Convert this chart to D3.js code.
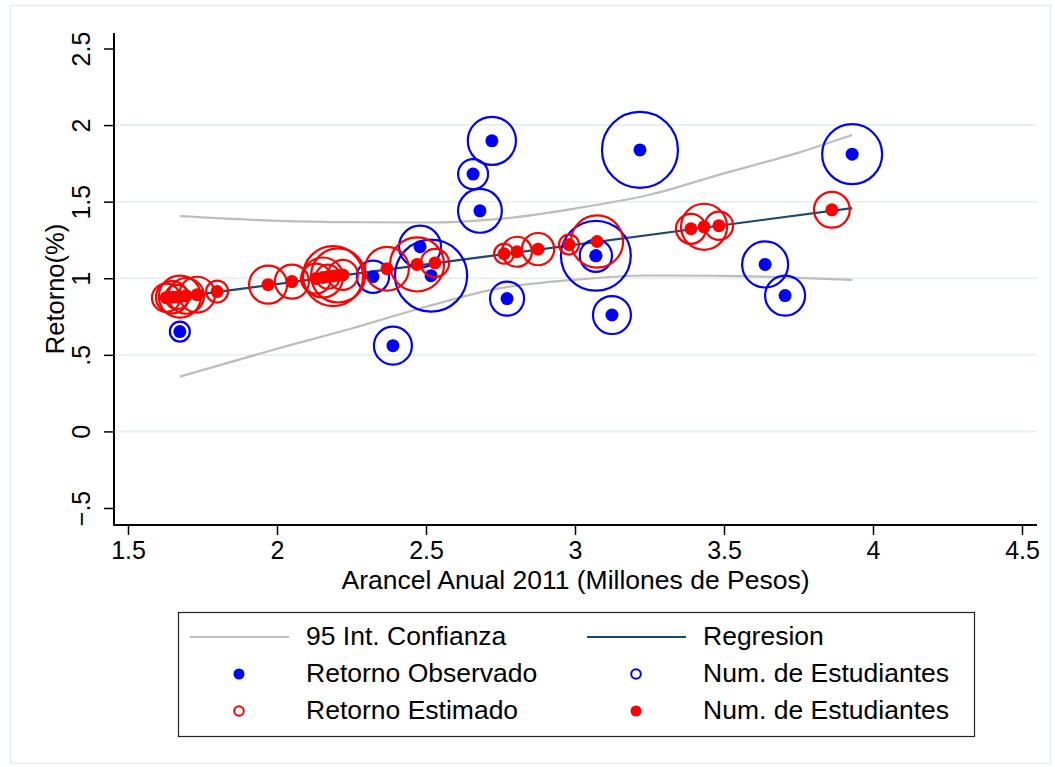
<!DOCTYPE html>
<html>
<head>
<meta charset="utf-8">
<script src="https://cdnjs.cloudflare.com/ajax/libs/d3/7.8.5/d3.min.js"></script>
<style>
  body { margin: 0; background: #fff; }
  svg text { font-family: "Liberation Sans", Arial, Helvetica, sans-serif; fill: #000; }
</style>
</head>
<body>
<div id="chart"></div>
<script>
// observed returns (blue), sized by number of students
var obsX = [1.674, 2.389, 2.322, 2.480, 2.517, 2.658, 2.681, 2.721, 2.772, 3.218, 3.070, 3.070, 3.124, 3.638, 3.705, 3.930];
var obsY = [0.652, 0.560, 1.010, 1.206, 1.017, 1.680, 1.440, 1.897, 0.867, 1.838, 1.147, 1.147, 0.760, 1.090, 0.887, 1.810];
var obsN = [100, 360, 260, 440, 1300, 225, 480, 580, 290, 1444, 260, 1220, 360, 530, 400, 900];

// estimated returns (red), sized by number of students
var estX = [1.628, 1.648, 1.665, 1.674, 1.695, 1.732, 1.799, 1.970, 2.050, 2.131, 2.154, 2.171, 2.188, 2.205, 2.221,
            2.369, 2.470, 2.530, 2.762, 2.805, 2.876, 2.980, 3.074, 3.389, 3.433, 3.483, 3.862];
var estY = [0.873, 0.876, 0.878, 0.880, 0.885, 0.893, 0.913, 0.958, 0.978, 0.998, 1.005, 1.010, 1.014, 1.018, 1.022,
            1.062, 1.090, 1.100, 1.160, 1.173, 1.190, 1.220, 1.240, 1.323, 1.336, 1.343, 1.447];
var estN = [200, 260, 145, 440, 320, 320, 120, 360, 290, 225, 400, 145, 900, 730, 225,
            480, 730, 200, 100, 225, 260, 100, 680, 225, 530, 200, 320];

// linear fit and 95% band
var regX = [1.674, 3.930];
var regY = [0.878, 1.458];
var ciX = [1.674, 2.0, 2.25, 2.5, 2.75, 3.0, 3.25, 3.5, 3.75, 3.930];
var ciUpper = [1.405, 1.375, 1.366, 1.364, 1.388, 1.455, 1.545, 1.685, 1.820, 1.935];
var ciLower = [0.358, 0.540, 0.672, 0.814, 0.935, 0.990, 1.018, 1.016, 1.003, 0.990];

var xTicks = [1.5, 2, 2.5, 3, 3.5, 4, 4.5];
var xTickLabels = ["1.5", "2", "2.5", "3", "3.5", "4", "4.5"];
var yTicks = [-0.5, 0, 0.5, 1, 1.5, 2, 2.5];
var yTickLabels = ["\u2212.5", "0", ".5", "1", "1.5", "2", "2.5"];
var gridValues = [0, 0.5, 1, 1.5, 2];

var legendItems = [
    {label: "95 Int. Confianza", type: "line", color: "#bdbdbd"},
    {label: "Regresion", type: "line", color: "#1a476f"},
    {label: "Retorno Observado", type: "dot", color: "#0000ff"},
    {label: "Num. de Estudiantes", type: "ring", color: "#0000ff"},
    {label: "Retorno Estimado", type: "ring", color: "#ff0000"},
    {label: "Num. de Estudiantes", type: "dot", color: "#ff0000"}
];

(function(){

    var width = 1055;
    var height = 767;

    var plot = {left: 114, right: 1037, top: 33, bottom: 525};

    var svg = d3.select("#chart")
        .append("svg")
            .attr("width", width)
            .attr("height", height);

    // outer frame
    svg.append("rect")
        .attr("x", 10.5)
        .attr("y", 5.5)
        .attr("width", 1040)
        .attr("height", 758)
        .attr("fill", "#fff")
        .attr("stroke", "#e6edf0")
        .attr("stroke-width", 1.5);

    var x = d3.scaleLinear().domain([1.5, 4.5]).range([128, 1022]);
    var y = d3.scaleLinear().domain([-0.5, 2.5]).range([508, 48.5]);
    var rScale = d3.scaleSqrt().domain([0, 1444]).range([0, 38]);

    // grid
    svg.append("g")
        .selectAll("line")
        .data(gridValues)
        .enter()
        .append("line")
            .attr("x1", plot.left)
            .attr("x2", plot.right)
            .attr("y1", function(d) { return y(d); })
            .attr("y2", function(d) { return y(d); })
            .attr("stroke", "#e8eff1")
            .attr("stroke-width", 2);

    // axes
    var xAxis = d3.axisBottom(x)
        .tickValues(xTicks)
        .tickFormat(function(d, i) { return xTickLabels[i]; })
        .tickSize(10)
        .tickPadding(7);

    var gx = svg.append("g")
        .attr("transform", "translate(0," + plot.bottom + ")")
        .call(xAxis);
    gx.select(".domain").remove();
    gx.selectAll("line").attr("stroke", "#000").attr("stroke-width", 1.5);
    gx.selectAll("text")
        .attr("font-size", "25px")
        .attr("dy", "0.71em")
        .attr("y", 16);

    var yAxis = d3.axisLeft(y)
        .tickValues(yTicks)
        .tickFormat(function(d, i) { return yTickLabels[i]; })
        .tickSize(10);

    var gy = svg.append("g")
        .attr("transform", "translate(" + plot.left + ",0)")
        .call(yAxis);
    gy.select(".domain").remove();
    gy.selectAll("line").attr("stroke", "#000").attr("stroke-width", 1.5);
    gy.selectAll("text")
        .attr("font-size", "25px")
        .attr("x", 0)
        .attr("y", -24)
        .attr("dy", 0)
        .attr("transform", "rotate(-90)")
        .style("text-anchor", "middle");

    svg.append("path")
        .attr("d", "M" + plot.left + "," + plot.top + "V" + plot.bottom + "H" + plot.right)
        .attr("fill", "none")
        .attr("stroke", "#000")
        .attr("stroke-width", 2);

    svg.append("text")
        .attr("x", (plot.left + plot.right) / 2)
        .attr("y", 589)
        .attr("font-size", "26.5px")
        .style("text-anchor", "middle")
        .text("Arancel Anual 2011 (Millones de Pesos)");

    svg.append("text")
        .attr("transform", "translate(64,289) rotate(-90)")
        .attr("font-size", "25.5px")
        .style("text-anchor", "middle")
        .text("Retorno(%)");

    // fit lines
    var line = d3.line()
        .x(function(d) { return x(d[0]); })
        .y(function(d) { return y(d[1]); })
        .curve(d3.curveMonotoneX);

    [ciUpper, ciLower].forEach(function(band){
        svg.append("path")
            .datum(ciX.map(function(v, i) { return [v, band[i]]; }))
            .attr("d", line)
            .attr("fill", "none")
            .attr("stroke", "#bdbdbd")
            .attr("stroke-width", 2.2);
    });

    svg.append("path")
        .datum(regX.map(function(v, i) { return [v, regY[i]]; }))
        .attr("d", line)
        .attr("fill", "none")
        .attr("stroke", "#1a476f")
        .attr("stroke-width", 2.2);

    function drawSeries(xs, ys, ns, colour) {
        var data = xs.map(function(v, i) { return {x: v, y: ys[i], n: ns[i]}; });
        var g = svg.append("g");
        g.selectAll("circle.ring")
            .data(data)
            .enter()
            .append("circle")
                .attr("class", "ring")
                .attr("cx", function(d) { return x(d.x); })
                .attr("cy", function(d) { return y(d.y); })
                .attr("r", function(d) { return rScale(d.n); })
                .attr("fill", "none")
                .attr("stroke", colour)
                .attr("stroke-width", 2.2);
        g.selectAll("circle.dot")
            .data(data)
            .enter()
            .append("circle")
                .attr("class", "dot")
                .attr("cx", function(d) { return x(d.x); })
                .attr("cy", function(d) { return y(d.y); })
                .attr("r", 6.5)
                .attr("fill", colour);
    }

    drawSeries(obsX, obsY, obsN, "#0000ff");
    drawSeries(estX, estY, estN, "#ff0000");

    // legend
    var legend = svg.append("g");
    legend.append("rect")
        .attr("x", 178.5)
        .attr("y", 612.5)
        .attr("width", 796)
        .attr("height", 124)
        .attr("fill", "#fff")
        .attr("stroke", "#222")
        .attr("stroke-width", 1.2);

    var colX = [190, 587];
    var rowY = [645, 682, 719];

    var item = legend.selectAll("g.item")
        .data(legendItems)
        .enter()
        .append("g")
            .attr("class", "item")
            .attr("transform", function(d, i) {
                return "translate(" + colX[i % 2] + "," + rowY[Math.floor(i / 2)] + ")";
            });

    item.each(function(d){
        var g = d3.select(this);
        if (d.type === "line") {
            g.append("line")
                .attr("x1", 0).attr("x2", 99)
                .attr("y1", -8).attr("y2", -8)
                .attr("stroke", d.color)
                .attr("stroke-width", 2.2);
        } else if (d.type === "dot") {
            g.append("circle")
                .attr("cx", 49).attr("cy", -8).attr("r", 5.5)
                .attr("fill", d.color);
        } else {
            g.append("circle")
                .attr("cx", 49).attr("cy", -8).attr("r", 4.8)
                .attr("fill", "none")
                .attr("stroke", d.color)
                .attr("stroke-width", 2);
        }
        g.append("text")
            .attr("x", 116)
            .attr("y", 0)
            .attr("font-size", "26.5px")
            .text(d.label);
    });
})();
</script>
</body>
</html>
